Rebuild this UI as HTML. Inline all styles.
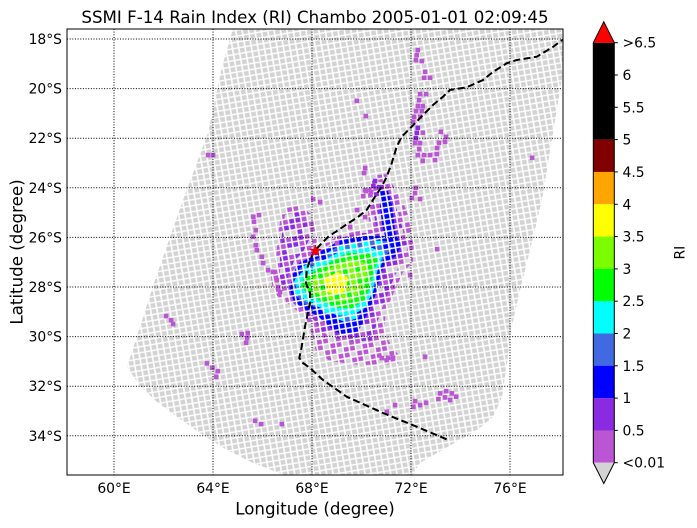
<!DOCTYPE html>
<html>
<head>
<meta charset="utf-8">
<style>
html,body{margin:0;padding:0;background:#fff;}
svg{display:block;}
text{font-family:"DejaVu Sans","Liberation Sans",sans-serif;fill:#000;}
</style>
</head>
<body>
<svg width="697" height="528" viewBox="0 0 697 528" xmlns="http://www.w3.org/2000/svg">
<defs>
  <clipPath id="plot"><rect x="67" y="29" width="496" height="446"/></clipPath>
  <pattern id="pg" width="6.3" height="5.9" patternUnits="userSpaceOnUse" patternTransform="rotate(-10)"><rect x="0.8" y="0.7" width="4.7" height="4.5" fill="#d3d3d3"/></pattern>
  <pattern id="pmo" width="18.9" height="17.7" patternUnits="userSpaceOnUse" patternTransform="rotate(-10)">
    <rect width="18.9" height="17.7" fill="#fff"/>
    <rect x="0.8" y="0.7" width="4.7" height="4.5" fill="#d3d3d3"/>
    <rect x="7.1" y="0.7" width="4.7" height="4.5" fill="#ba55d3"/>
    <rect x="13.4" y="0.7" width="4.7" height="4.5" fill="#ba55d3"/>
    <rect x="0.8" y="6.6" width="4.7" height="4.5" fill="#ba55d3"/>
    <rect x="7.1" y="6.6" width="4.7" height="4.5" fill="#ba55d3"/>
    <rect x="13.4" y="6.6" width="4.7" height="4.5" fill="#d3d3d3"/>
    <rect x="0.8" y="12.5" width="4.7" height="4.5" fill="#ba55d3"/>
    <rect x="7.1" y="12.5" width="4.7" height="4.5" fill="#d3d3d3"/>
    <rect x="13.4" y="12.5" width="4.7" height="4.5" fill="#ba55d3"/>
  </pattern>
  <pattern id="pbv" width="18.9" height="17.7" patternUnits="userSpaceOnUse" patternTransform="rotate(-10)">
    <rect width="18.9" height="17.7" fill="#fff"/>
    <rect x="0.8" y="0.7" width="4.7" height="4.5" fill="#8a2be2"/>
    <rect x="7.1" y="0.7" width="4.7" height="4.5" fill="#8a2be2"/>
    <rect x="13.4" y="0.7" width="4.7" height="4.5" fill="#ba55d3"/>
    <rect x="0.8" y="6.6" width="4.7" height="4.5" fill="#8a2be2"/>
    <rect x="7.1" y="6.6" width="4.7" height="4.5" fill="#ba55d3"/>
    <rect x="13.4" y="6.6" width="4.7" height="4.5" fill="#8a2be2"/>
    <rect x="0.8" y="12.5" width="4.7" height="4.5" fill="#d3d3d3"/>
    <rect x="7.1" y="12.5" width="4.7" height="4.5" fill="#8a2be2"/>
    <rect x="13.4" y="12.5" width="4.7" height="4.5" fill="#d3d3d3"/>
  </pattern>
  <pattern id="pb" width="6.3" height="5.9" patternUnits="userSpaceOnUse" patternTransform="rotate(-10)"><rect width="6.3" height="5.9" fill="#fff"/><rect x="0.8" y="0.7" width="4.7" height="4.5" fill="#0000ff"/></pattern>
  <pattern id="prb" width="12.6" height="11.8" patternUnits="userSpaceOnUse" patternTransform="rotate(-10)"><rect width="12.6" height="11.8" fill="#fff"/>
    <rect x="0.8" y="0.7" width="4.7" height="4.5" fill="#4169e1"/>
    <rect x="7.1" y="0.7" width="4.7" height="4.5" fill="#0000ff"/>
    <rect x="0.8" y="6.6" width="4.7" height="4.5" fill="#00ffff"/>
    <rect x="7.1" y="6.6" width="4.7" height="4.5" fill="#4169e1"/>
  </pattern>
  <pattern id="pc" width="6.3" height="5.9" patternUnits="userSpaceOnUse" patternTransform="rotate(-10)"><rect width="6.3" height="5.9" fill="#fff"/><rect x="0.8" y="0.7" width="4.7" height="4.5" fill="#00ffff"/></pattern>
  <pattern id="pl" width="6.3" height="5.9" patternUnits="userSpaceOnUse" patternTransform="rotate(-10)"><rect width="6.3" height="5.9" fill="#fff"/><rect x="0.8" y="0.7" width="4.7" height="4.5" fill="#00ff00"/></pattern>
  <pattern id="plg" width="12.6" height="11.8" patternUnits="userSpaceOnUse" patternTransform="rotate(-10)"><rect width="12.6" height="11.8" fill="#fff"/>
    <rect x="0.8" y="0.7" width="4.7" height="4.5" fill="#7cfc00"/>
    <rect x="7.1" y="0.7" width="4.7" height="4.5" fill="#7cfc00"/>
    <rect x="0.8" y="6.6" width="4.7" height="4.5" fill="#00ff00"/>
    <rect x="7.1" y="6.6" width="4.7" height="4.5" fill="#7cfc00"/>
  </pattern>
  <pattern id="py" width="6.3" height="5.9" patternUnits="userSpaceOnUse" patternTransform="rotate(-10)"><rect width="6.3" height="5.9" fill="#fff"/><rect x="0.8" y="0.7" width="4.7" height="4.5" fill="#ffff00"/></pattern>
</defs>

<!-- Title -->
<text x="315" y="22.8" font-size="16.67" text-anchor="middle">SSMI F-14 Rain Index (RI) Chambo 2005-01-01 02:09:45</text>

<g clip-path="url(#plot)">
  <!-- swath -->
  <polygon fill="url(#pg)" points="242,0 233,29 222,67 208,133 183,200 155,280 127,367 140,386 157,402 177,417 200,433 227,450 253,463 277,472 300,482 340,492 390,490 412,475 420,463 437,453 460,440 477,430 493,417 502,397 507,363 511,330 520,290 530,250 542,200 553,133 560,90 566,50 570,0"/>

  <!-- mediumorchid (sparse) -->
  <polygon fill="url(#pmo)" points="282,208 300,206 314,216 318,238 312,254 300,262 292,276 288,292 282,300 273,292 271,276 276,258 278,236"/>
  <polygon fill="url(#pmo)" points="370,176 386,174 396,190 405,207 411,224 414,240 396,244 378,240 369,222 367,200"/>
  <polygon fill="url(#pmo)" points="296,262 318,248 338,236 360,230 398,230 414,237 413,262 403,272 394,292 386,310 384,330 392,348 400,356 398,364 360,365 330,361 316,352 312,334 306,318 296,310 286,302 283,288 288,272"/>
  <!-- blueviolet -->
  <polygon fill="url(#pbv)" points="285,215 298,212 308,221 310,238 303,252 294,261 288,276 284,288 280,280 280,258 282,234"/>
  <polygon fill="url(#pbv)" points="375,182 384,182 391,196 397,210 402,226 404,237 392,240 381,236 375,222 373,200"/>
  <polygon fill="url(#pbv)" points="300,262 320,250 340,238 360,233 398,233 408,240 406,258 398,268 390,288 382,308 376,326 372,340 355,342 335,338 322,332 314,320 304,312 292,302 288,288 292,272"/>
  <!-- blue -->
  <polygon fill="url(#pb)" points="380,191 388,191 392,205 394,222 396,238 386,240 382,224 380,206"/>
  <polygon fill="url(#pb)" points="298,264 320,252 340,240 360,236 396,236 402,244 396,256 386,262 380,276 376,294 370,308 364,320 358,332 340,334 327,325 318,316 306,310 294,302 290,290 293,274"/>
  <!-- royalblue mix ring -->
  <polygon fill="url(#prb)" points="300,268 322,256 342,244 362,240 388,241 392,248 384,258 378,272 373,292 366,306 358,318 345,322 330,316 318,308 305,304 296,296 294,282"/>
  <!-- cyan -->
  <polygon fill="url(#pc)" points="301,273 322,261 345,249 370,247 384,253 379,265 375,280 371,296 363,309 351,316 336,315 321,308 307,302 297,292 296,280"/>
  <!-- lime -->
  <polygon fill="url(#pl)" points="304,277 325,265 347,253 368,253 378,259 374,271 370,288 364,301 352,308 338,308 323,302 311,296 301,287"/>
  <!-- lawngreen -->
  <polygon fill="url(#plg)" points="310,280 330,268 350,259 366,263 367,276 361,291 351,300 338,302 324,297 312,291"/>
  <!-- yellow -->
  <polygon fill="url(#py)" points="325,278 338,272 348,278 346,290 336,295 326,291"/>

  <!-- scattered pixels -->
  <g fill="#ba55d3">
    <rect x="415.5" y="47.8" width="4.6" height="4.6"/><rect x="414.5" y="52.8" width="4.6" height="4.6"/><rect x="413.5" y="57.8" width="4.6" height="4.6"/><rect x="419.5" y="58.8" width="4.6" height="4.6"/>
    <rect x="422.8" y="69.5" width="4.6" height="4.6"/><rect x="421.8" y="75.5" width="4.6" height="4.6"/><rect x="427.8" y="75.5" width="4.6" height="4.6"/>
    <rect x="417.8" y="91.8" width="4.6" height="4.6"/><rect x="423.8" y="91.8" width="4.6" height="4.6"/><rect x="416.8" y="97.8" width="4.6" height="4.6"/>
    <rect x="415.5" y="103.8" width="4.6" height="4.6"/><rect x="420.5" y="103.8" width="4.6" height="4.6"/><rect x="413.8" y="108.8" width="4.6" height="4.6"/><rect x="419.5" y="108.8" width="4.6" height="4.6"/>
    <rect x="411.8" y="114.5" width="4.6" height="4.6"/><rect x="417.8" y="114.5" width="4.6" height="4.6"/><rect x="410.8" y="119.5" width="4.6" height="4.6"/>
    <rect x="420.5" y="130.5" width="4.6" height="4.6"/><rect x="412.8" y="140.8" width="4.6" height="4.6"/><rect x="417.8" y="140.8" width="4.6" height="4.6"/>
    <rect x="416.8" y="146.8" width="4.6" height="4.6"/><rect x="415.5" y="152.8" width="4.6" height="4.6"/><rect x="421.8" y="152.8" width="4.6" height="4.6"/><rect x="427.8" y="152.8" width="4.6" height="4.6"/>
    <rect x="420.5" y="158.5" width="4.6" height="4.6"/><rect x="432.8" y="157.8" width="4.6" height="4.6"/><rect x="434.5" y="151.8" width="4.6" height="4.6"/><rect x="434.8" y="145.8" width="4.6" height="4.6"/>
    <rect x="436.8" y="140.5" width="4.6" height="4.6"/><rect x="442.8" y="139.5" width="4.6" height="4.6"/><rect x="443.8" y="134.5" width="4.6" height="4.6"/><rect x="438.5" y="129.5" width="4.6" height="4.6"/>
    <rect x="529.8" y="155.5" width="4.6" height="4.6"/><rect x="354.5" y="98.5" width="4.6" height="4.6"/><rect x="363.5" y="113.8" width="4.6" height="4.6"/>
    <rect x="362.8" y="165.8" width="4.6" height="4.6"/><rect x="361.8" y="170.8" width="4.6" height="4.6"/><rect x="363.8" y="188.8" width="4.6" height="4.6"/><rect x="368.8" y="189.8" width="4.6" height="4.6"/>
    <rect x="413.5" y="185.5" width="4.6" height="4.6"/><rect x="412.8" y="190.8" width="4.6" height="4.6"/><rect x="417.8" y="196.8" width="4.6" height="4.6"/>
    <rect x="205.8" y="152.8" width="4.6" height="4.6"/><rect x="210.8" y="152.8" width="4.6" height="4.6"/><rect x="310.8" y="196.8" width="4.6" height="4.6"/><rect x="317.8" y="199.8" width="4.6" height="4.6"/>
    <rect x="239.5" y="331.8" width="4.6" height="4.6"/><rect x="245.5" y="330.8" width="4.6" height="4.6"/><rect x="244.8" y="335.8" width="4.6" height="4.6"/><rect x="243.8" y="340.5" width="4.6" height="4.6"/>
    <rect x="204.5" y="361.1" width="4.6" height="4.6"/><rect x="210.1" y="365.5" width="4.6" height="4.6"/><rect x="215.5" y="368.8" width="4.6" height="4.6"/><rect x="213.8" y="374.5" width="4.6" height="4.6"/>
    <rect x="252.8" y="418.5" width="4.6" height="4.6"/><rect x="258.8" y="421.8" width="4.6" height="4.6"/><rect x="279.5" y="421.8" width="4.6" height="4.6"/>
    <rect x="163.8" y="313.8" width="4.6" height="4.6"/><rect x="168.8" y="317.8" width="4.6" height="4.6"/><rect x="170.8" y="321.8" width="4.6" height="4.6"/>
    <rect x="251.1" y="214.5" width="4.6" height="4.6"/><rect x="256.8" y="212.8" width="4.6" height="4.6"/><rect x="251.8" y="219.5" width="4.6" height="4.6"/><rect x="253.5" y="227.8" width="4.6" height="4.6"/>
    <rect x="250.8" y="234.5" width="4.6" height="4.6"/><rect x="253.5" y="242.8" width="4.6" height="4.6"/><rect x="254.5" y="247.8" width="4.6" height="4.6"/><rect x="259.5" y="254.5" width="4.6" height="4.6"/>
    <rect x="260.8" y="260.8" width="4.6" height="4.6"/><rect x="265.8" y="267.8" width="4.6" height="4.6"/><rect x="270.8" y="269.5" width="4.6" height="4.6"/><rect x="274.5" y="277.8" width="4.6" height="4.6"/>
    <rect x="275.8" y="284.8" width="4.6" height="4.6"/><rect x="277.8" y="289.8" width="4.6" height="4.6"/>
    <rect x="379.5" y="355.8" width="4.6" height="4.6"/><rect x="385.8" y="355.5" width="4.6" height="4.6"/><rect x="390.8" y="355.5" width="4.6" height="4.6"/><rect x="422.8" y="354.5" width="4.6" height="4.6"/>
    <rect x="437.8" y="391.1" width="4.6" height="4.6"/><rect x="443.8" y="388.8" width="4.6" height="4.6"/><rect x="449.5" y="391.1" width="4.6" height="4.6"/><rect x="453.8" y="394.5" width="4.6" height="4.6"/>
    <rect x="436.1" y="396.8" width="4.6" height="4.6"/><rect x="442.8" y="395.1" width="4.6" height="4.6"/><rect x="447.8" y="397.8" width="4.6" height="4.6"/>
    <rect x="412.8" y="398.8" width="4.6" height="4.6"/><rect x="411.1" y="404.5" width="4.6" height="4.6"/><rect x="417.8" y="402.8" width="4.6" height="4.6"/><rect x="423.8" y="400.5" width="4.6" height="4.6"/>
    <rect x="392.8" y="402.8" width="4.6" height="4.6"/><rect x="384.5" y="409.5" width="4.6" height="4.6"/>
    <rect x="407.8" y="272.8" width="4.6" height="4.6"/><rect x="409.5" y="195.8" width="4.6" height="4.6"/><rect x="434.8" y="246.8" width="4.6" height="4.6"/>
    <rect x="362.8" y="187.8" width="4.6" height="4.6"/><rect x="360.8" y="193.8" width="4.6" height="4.6"/><rect x="354.8" y="207.8" width="4.6" height="4.6"/><rect x="362.8" y="214.8" width="4.6" height="4.6"/>
    <rect x="347.8" y="224.8" width="4.6" height="4.6"/><rect x="334.8" y="240.8" width="4.6" height="4.6"/>
  </g>
  <g fill="#8a2be2">
    <rect x="415.5" y="125.5" width="4.6" height="4.6"/><rect x="414.5" y="130.5" width="4.6" height="4.6"/><rect x="413.5" y="135.8" width="4.6" height="4.6"/>
    <rect x="372.8" y="178.8" width="4.6" height="4.6"/><rect x="371.1" y="183.8" width="4.6" height="4.6"/><rect x="376.8" y="184.8" width="4.6" height="4.6"/>
  </g>

  <!-- grid -->
  <g stroke="#000" stroke-width="1" stroke-dasharray="1,1.65" fill="none">
    <line x1="114" y1="29" x2="114" y2="475"/>
    <line x1="213" y1="29" x2="213" y2="475"/>
    <line x1="312" y1="29" x2="312" y2="475"/>
    <line x1="411" y1="29" x2="411" y2="475"/>
    <line x1="510" y1="29" x2="510" y2="475"/>
    <line x1="67" y1="39" x2="563" y2="39"/>
    <line x1="67" y1="88.6" x2="563" y2="88.6"/>
    <line x1="67" y1="138.2" x2="563" y2="138.2"/>
    <line x1="67" y1="187.8" x2="563" y2="187.8"/>
    <line x1="67" y1="237.4" x2="563" y2="237.4"/>
    <line x1="67" y1="287" x2="563" y2="287"/>
    <line x1="67" y1="336.6" x2="563" y2="336.6"/>
    <line x1="67" y1="386.2" x2="563" y2="386.2"/>
    <line x1="67" y1="435.8" x2="563" y2="435.8"/>
  </g>

  <!-- dashed track -->
  <path fill="none" stroke="#000" stroke-width="2" stroke-dasharray="7,3.5" d="M566,36.5 L563.3,39.3 L553.3,46.7 L543,53 L536.7,56.7 L516.7,60 L506.7,63.3 L493.3,71.7 L483,80 L466.7,87.3 L450,90 L443,96.7 L433,105 L423,115 L411.7,126.7 L401.7,136.7 L396.7,146.7 L391.7,163.3 L386.7,176.7 L381.7,186.7 L375,196.7 L366.7,210 L358.3,216.7 L348.3,223.3 L338.3,230 L328.3,236.7 L320,245 L314,252 L310,260 L306.7,270 L306,283.3 L310,293 L310,303 L305,326.7 L301.7,346.7 L299.3,358 L303,363 L310,368 L323,380 L346.7,396.7 L383,413 L416.7,426.7 L448.3,440"/>

  <!-- star -->
  <polygon fill="#ff0000" stroke="#cc0000" stroke-width="0.5" points="315.5,245 316.9,249.06 321.2,249.15 317.78,251.74 319.03,255.85 315.5,253.4 311.97,255.85 313.22,251.74 309.79,249.15 314.09,249.06"/>
</g>

<!-- axes frame -->
<rect x="67" y="29" width="496" height="446" fill="none" stroke="#000" stroke-width="1"/>

<!-- y tick labels -->
<g font-size="13.89" text-anchor="end">
  <text x="62" y="44">18°S</text>
  <text x="62" y="93.6">20°S</text>
  <text x="62" y="143.2">22°S</text>
  <text x="62" y="192.8">24°S</text>
  <text x="62" y="242.4">26°S</text>
  <text x="62" y="292">28°S</text>
  <text x="62" y="341.6">30°S</text>
  <text x="62" y="391.2">32°S</text>
  <text x="62" y="440.8">34°S</text>
</g>
<!-- x tick labels -->
<g font-size="13.89" text-anchor="middle">
  <text x="114" y="493">60°E</text>
  <text x="213" y="493">64°E</text>
  <text x="312" y="493">68°E</text>
  <text x="411" y="493">72°E</text>
  <text x="510" y="493">76°E</text>
</g>

<!-- axis titles -->
<text x="315" y="514.5" font-size="16.67" text-anchor="middle">Longitude (degree)</text>
<text transform="translate(22.5,252) rotate(-90)" font-size="16.67" text-anchor="middle">Latitude (degree)</text>

<!-- colorbar -->
<g>
  <rect x="593.3" y="42.7" width="21" height="96.9" fill="#000"/>
  <rect x="593.3" y="139.6" width="21" height="32.4" fill="#800000"/>
  <rect x="593.3" y="171.9" width="21" height="32.4" fill="#ffa500"/>
  <rect x="593.3" y="204.3" width="21" height="32.4" fill="#ffff00"/>
  <rect x="593.3" y="236.6" width="21" height="32.4" fill="#7cfc00"/>
  <rect x="593.3" y="268.9" width="21" height="32.4" fill="#00ff00"/>
  <rect x="593.3" y="301.2" width="21" height="32.4" fill="#00ffff"/>
  <rect x="593.3" y="333.5" width="21" height="32.4" fill="#4169e1"/>
  <rect x="593.3" y="365.8" width="21" height="32.4" fill="#0000ff"/>
  <rect x="593.3" y="398.1" width="21" height="32.4" fill="#8a2be2"/>
  <rect x="593.3" y="430.4" width="21" height="32.3" fill="#ba55d3"/>
  <polygon points="593.3,42.7 614.3,42.7 603.8,21.7" fill="#ff0000"/>
  <polygon points="593.3,462.7 614.3,462.7 603.8,483.5" fill="#d3d3d3"/>
  <path d="M593.3,42.7 L603.8,21.7 L614.3,42.7 L614.3,462.7 L603.8,483.5 L593.3,462.7 Z" fill="none" stroke="#000" stroke-width="1"/>
  <g stroke="#000" stroke-width="1">
    <line x1="614.3" y1="42.7" x2="617.8" y2="42.7"/>
    <line x1="614.3" y1="75" x2="617.8" y2="75"/>
    <line x1="614.3" y1="107.3" x2="617.8" y2="107.3"/>
    <line x1="614.3" y1="139.6" x2="617.8" y2="139.6"/>
    <line x1="614.3" y1="171.9" x2="617.8" y2="171.9"/>
    <line x1="614.3" y1="204.3" x2="617.8" y2="204.3"/>
    <line x1="614.3" y1="236.6" x2="617.8" y2="236.6"/>
    <line x1="614.3" y1="268.9" x2="617.8" y2="268.9"/>
    <line x1="614.3" y1="301.2" x2="617.8" y2="301.2"/>
    <line x1="614.3" y1="333.5" x2="617.8" y2="333.5"/>
    <line x1="614.3" y1="365.8" x2="617.8" y2="365.8"/>
    <line x1="614.3" y1="398.1" x2="617.8" y2="398.1"/>
    <line x1="614.3" y1="430.4" x2="617.8" y2="430.4"/>
    <line x1="614.3" y1="462.7" x2="617.8" y2="462.7"/>
  </g>
  <g font-size="13.89">
    <text x="622.5" y="47.7">&gt;6.5</text>
    <text x="622.5" y="80">6</text>
    <text x="622.5" y="112.3">5.5</text>
    <text x="622.5" y="144.6">5</text>
    <text x="622.5" y="176.9">4.5</text>
    <text x="622.5" y="209.3">4</text>
    <text x="622.5" y="241.6">3.5</text>
    <text x="622.5" y="273.9">3</text>
    <text x="622.5" y="306.2">2.5</text>
    <text x="622.5" y="338.5">2</text>
    <text x="622.5" y="370.8">1.5</text>
    <text x="622.5" y="403.1">1</text>
    <text x="622.5" y="435.4">0.5</text>
    <text x="622.5" y="467.7">&lt;0.01</text>
  </g>
  <text transform="translate(684.5,252.7) rotate(-90)" font-size="13.89" text-anchor="middle">RI</text>
</g>
</svg>
</body>
</html>
